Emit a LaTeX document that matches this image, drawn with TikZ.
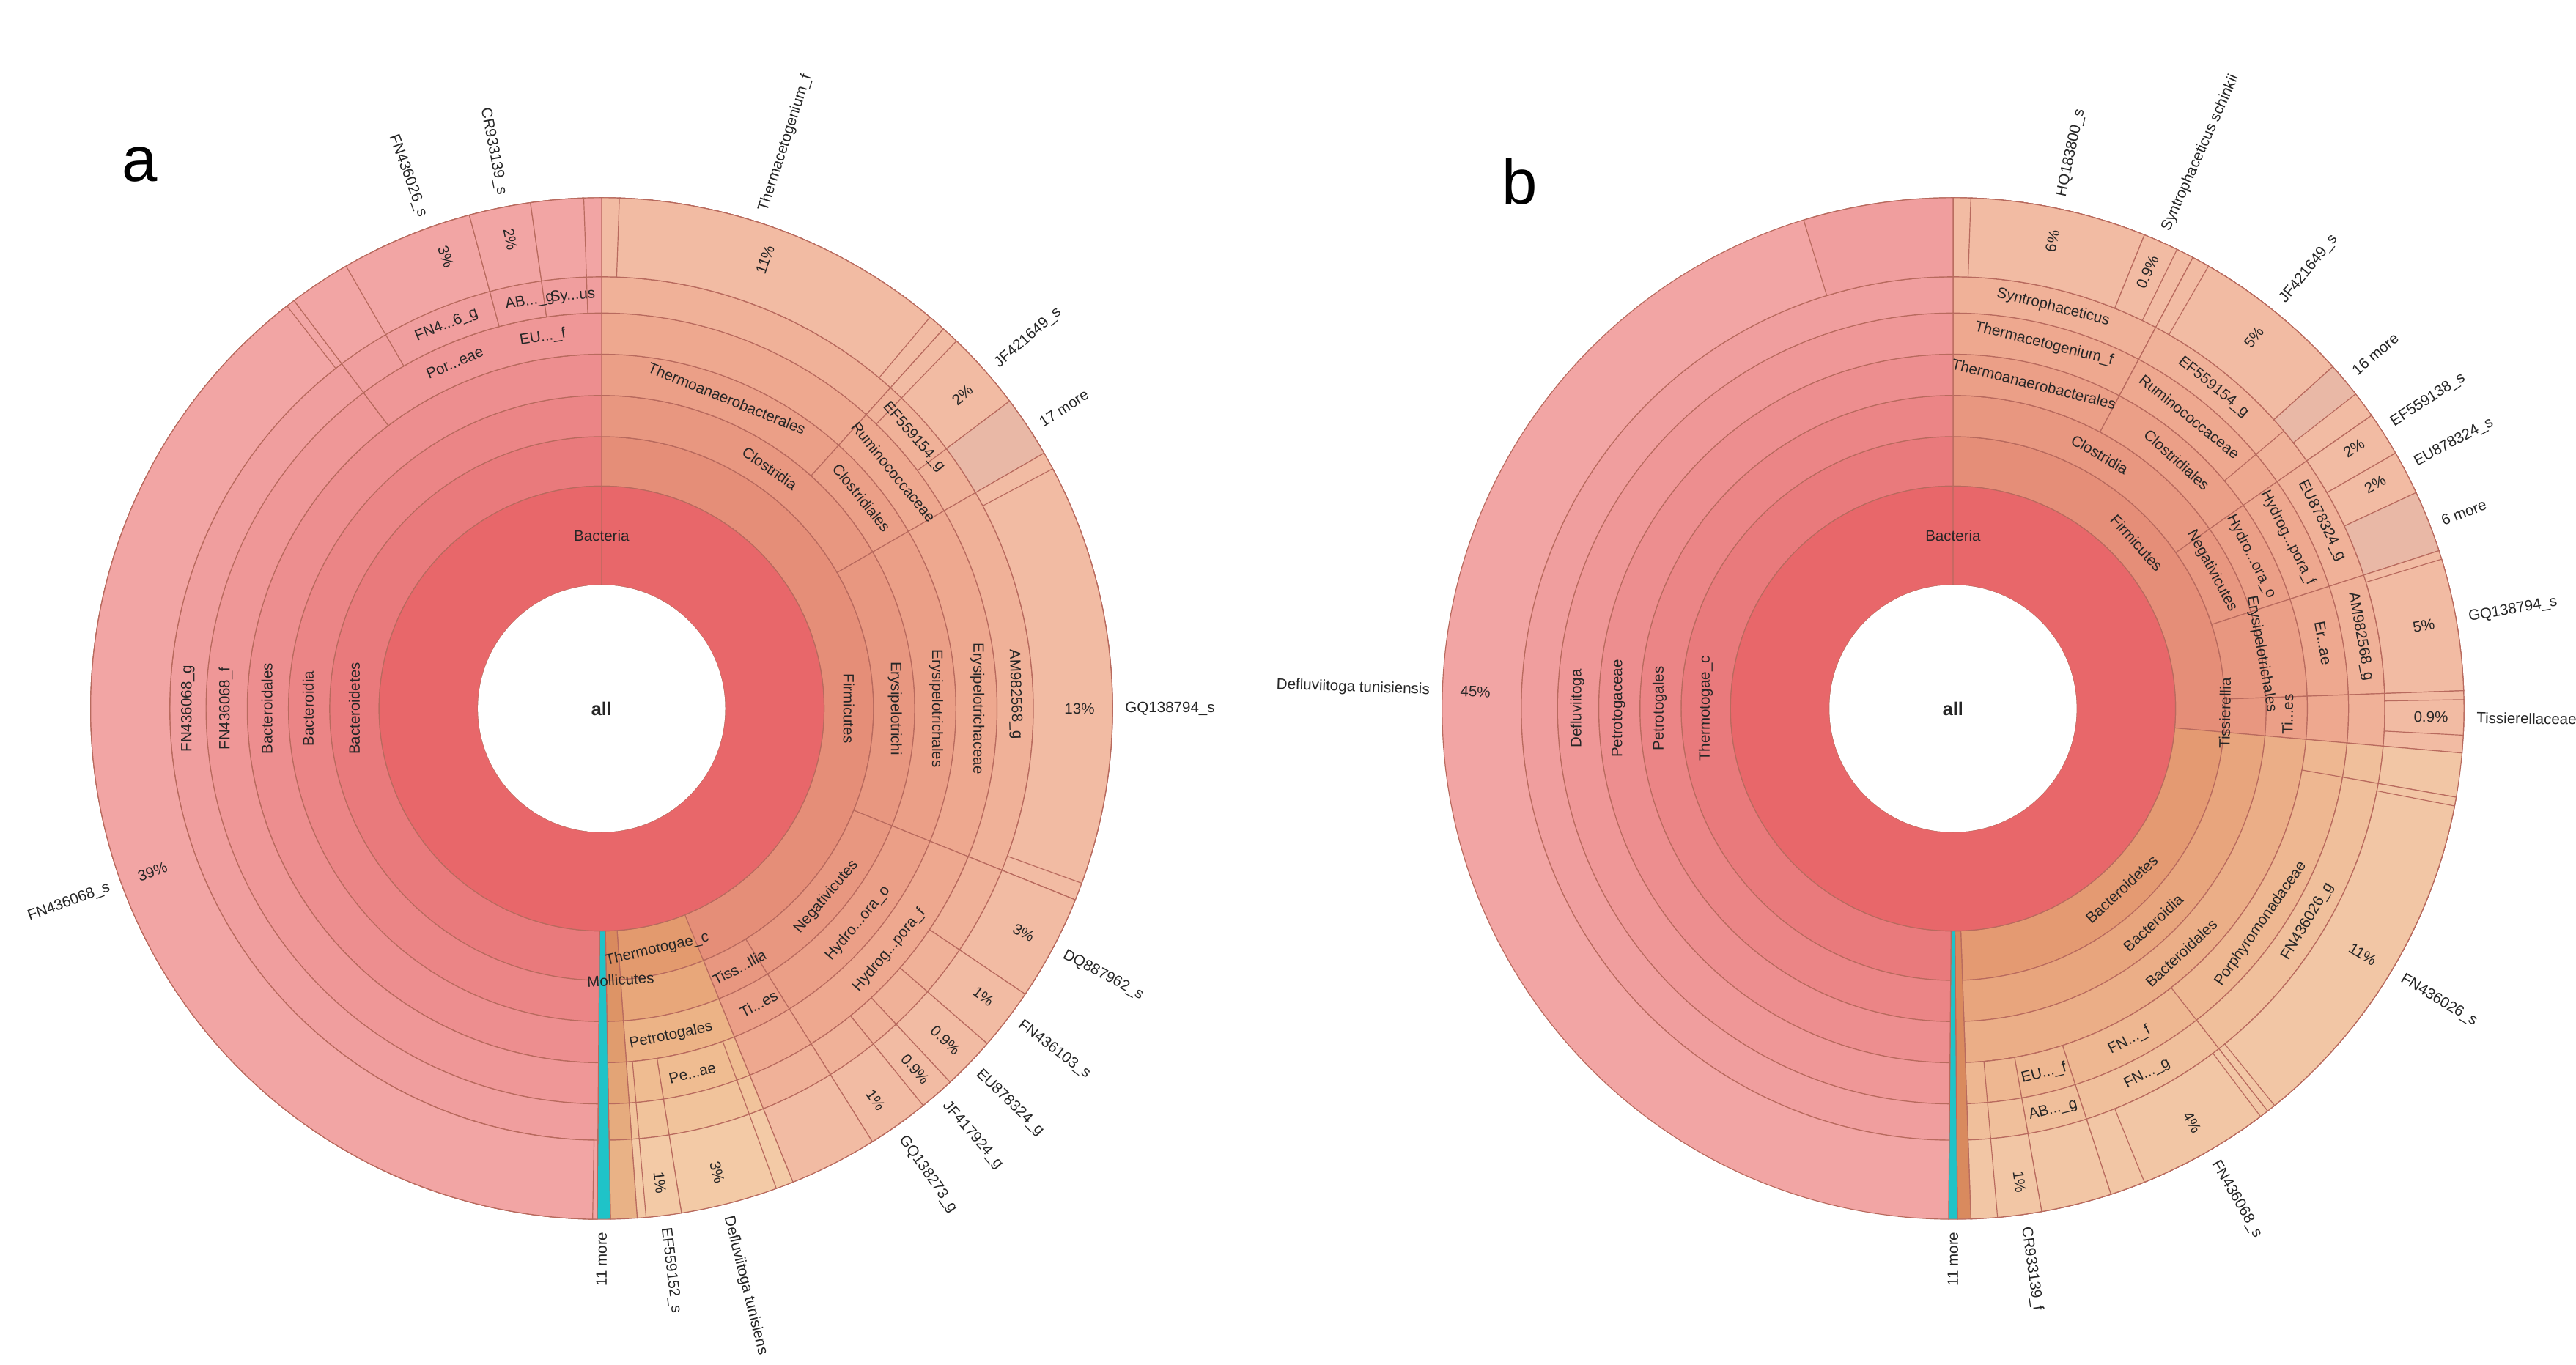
\documentclass[tikz,border=0pt]{standalone}
\usepackage{fontspec}
\setmainfont{Liberation Sans}
\definecolor{core}{HTML}{E8676A}
\definecolor{fm1}{HTML}{E58E78}\definecolor{fm2}{HTML}{E89780}\definecolor{fm3}{HTML}{EB9F87}
\definecolor{fm4}{HTML}{EEA88F}\definecolor{fm5}{HTML}{F0B198}\definecolor{fm6}{HTML}{F2BBA3}
\definecolor{bd1}{HTML}{E97A7C}\definecolor{bd2}{HTML}{EB8586}\definecolor{bd3}{HTML}{ED8E8F}
\definecolor{bd4}{HTML}{EF9797}\definecolor{bd5}{HTML}{F09E9E}\definecolor{bd6}{HTML}{F2A5A4}
\definecolor{tt1}{HTML}{E39A6E}\definecolor{tt2}{HTML}{E8A77A}\definecolor{tt3}{HTML}{ECB386}
\definecolor{tt4}{HTML}{EFBC91}\definecolor{tt5}{HTML}{F1C39B}\definecolor{tt6}{HTML}{F3CAA6}
\definecolor{tn1}{HTML}{D98A5E}\definecolor{tn2}{HTML}{DD9466}\definecolor{tn3}{HTML}{E09C6E}
\definecolor{tn4}{HTML}{E3A476}\definecolor{tn5}{HTML}{E6AB7E}\definecolor{tn6}{HTML}{E9B286}
\definecolor{bb1}{HTML}{E49A72}\definecolor{bb2}{HTML}{E8A57D}\definecolor{bb3}{HTML}{EBAE87}
\definecolor{bb4}{HTML}{EEB791}\definecolor{bb5}{HTML}{F0BF9B}\definecolor{bb6}{HTML}{F2C6A5}
\definecolor{more}{HTML}{E9B8A6}
\definecolor{tealc}{HTML}{1FC3C8}
\definecolor{edge}{HTML}{B86A5E}
\def\rads{{75,135,165,190,215,240,262,310}}
\newcommand\wdg[5]{\filldraw[fill=#5,draw=edge,line width=0.15pt]
 ({90-(#3)}:#1) arc[start angle={90-(#3)},end angle={90-(#4)},radius=#1]
 -- ({90-(#4)}:#2) arc[start angle={90-(#4)},end angle={90-(#3)},radius=#2] -- cycle;}
\newcommand\clade[4]{\foreach \l in {#3,...,6}{\pgfmathsetmacro\ra{\rads[\l]}\pgfmathsetmacro\rb{\rads[\l+1]}\wdg{\ra}{\rb}{#1}{#2}{#4\l}}}
\newcommand\tl[3]{\pgfmathsetmacro\rt{((#1>90)&&(#1<270))?180-(#1):-(#1)}\node[lbl,rotate=\rt] at ({90-(#1)}:#2) {#3};}
\newcommand\rl[3]{\pgfmathsetmacro\rt{(#1<180)?90-(#1):270-(#1)}\node[lbl,rotate=\rt] at ({90-(#1)}:#2) {#3};}
\newcommand\ol[2]{\pgfmathsetmacro\rt{(#1<180)?90-(#1):270-(#1)}\pgfmathsetmacro\an{(#1<180)?180:0}
 \node[lbl,rotate=\rt,anchor=\an] at ({90-(#1)}:316) {#2};}
\tikzset{lbl/.style={font=\fontsize{2.6}{3}\selectfont,inner sep=0.3pt,text=black!85}}
\begin{document}
\begin{tikzpicture}[x=0.1mm,y=0.1mm]
\useasboundingbox (0,0) rectangle (1563,828);
\fill[white] (0,0) rectangle (1563,828);
\node[font=\fontsize{11}{12}\selectfont] (la) at (85,728) {a};
\node[font=\fontsize{11}{12}\selectfont] (lb) at (922,718) {b};
% ---------- chart a ----------
\begin{scope}[shift={(365,398)}]
\clade{0}{160}{1}{fm}
\clade{0}{60}{2}{fm}\clade{0}{42}{3}{fm}\clade{2}{40}{6}{fm}\clade{42}{60}{3}{fm}\clade{44}{53}{5}{fm}
\wdg{262}{310}{53}{60}{more}
\clade{60}{112}{2}{fm}\clade{62}{110}{6}{fm}
\clade{112}{148}{2}{fm}\clade{112}{124}{5}{fm}\clade{124}{131}{5}{fm}\clade{131}{137}{5}{fm}\clade{137}{141}{5}{fm}\clade{141}{148}{5}{fm}
\clade{148}{158}{2}{fm}
\clade{158}{176}{1}{tt}\clade{160}{171}{4}{tt}\clade{171}{175}{4}{tt}
\clade{176}{179}{1}{tn}
\wdg{135}{310}{179}{180.5}{tealc}
\clade{180.5}{360}{1}{bd}\clade{180.5}{323}{4}{bd}\clade{181}{322}{6}{bd}
\clade{323}{360}{4}{bd}\clade{330}{345}{5}{bd}\clade{345}{352}{5}{bd}\clade{352}{358}{5}{bd}
\wdg{75}{135}{0}{360}{core}
\fill[white] (0,0) circle[radius=75];
\node[lbl,font=\fontsize{3.2}{4}\selectfont\bfseries] (alla) at (0,0) {all};
\tl{0}{105}{Bacteria}
\tl{90}{150}{Firmicutes}\tl{90}{178}{Erysipelotrichi}\tl{90}{203}{Erysipelotrichales}
\tl{90}{228}{Erysipelotrichaceae}\tl{88}{251}{AM982568\_g}
\tl{35}{178}{Clostridia}\tl{22}{203}{Thermoanaerobacterales}\tl{51}{203}{Clostridiales}
\tl{51}{228}{Ruminococcaceae}\tl{49}{251}{EF559154\_g}
\tl{130}{178}{Negativicutes}\tl{130}{203}{Hydro...ora\_o}\tl{130}{228}{Hydrog...pora\_f}
\tl{152}{178}{Tiss...llia}\tl{152}{203}{Ti...es}
\tl{167}{150}{Thermotogae\_c}\tl{168}{203}{Petrotogales}\tl{166}{228}{Pe...ae}
\tl{176}{165}{Mollicutes}
\tl{270}{150}{Bacteroidetes}\tl{270}{178}{Bacteroidia}\tl{270}{203}{Bacteroidales}
\tl{270}{228}{FN436068\_f}\tl{270}{251}{FN436068\_g}
\tl{337}{228}{Por...eae}\tl{338}{251}{FN4...6\_g}\tl{351}{228}{EU...\_f}\tl{350}{251}{AB...\_g}\tl{356}{251}{Sy...us}
\rl{90}{290}{13\%}\ol{90}{GQ138794\_s}
\rl{20}{290}{11\%}\ol{18}{Thermacetogenium\_f}
\rl{49}{290}{2\%}\ol{49}{JF421649\_s}\ol{57}{17 more}
\rl{118}{290}{3\%}\ol{118}{DQ887962\_s}
\rl{127}{290}{1\%}\ol{127}{FN436103\_s}
\rl{134}{290}{0.9\%}\ol{134}{EU878324\_g}
\rl{139}{290}{0.9\%}\ol{139}{JF417924\_g}
\rl{145}{290}{1\%}\ol{145}{GQ138273\_g}
\rl{166}{290}{3\%}\ol{166}{Defluviitoga tunisiens}
\rl{173}{290}{1\%}\ol{173}{EF559152\_s}
\ol{180}{11 more}
\rl{250}{290}{39\%}\ol{250}{FN436068\_s}
\rl{341}{290}{3\%}\ol{340}{FN436026\_s}
\rl{349}{290}{2\%}\ol{349}{CR933139\_s}
\end{scope}
% ---------- chart b ----------
\begin{scope}[shift={(1185,398)}]
\clade{0}{95}{1}{fm}
\clade{0}{55}{2}{fm}\clade{0}{28}{3}{fm}\clade{2}{22}{6}{fm}\clade{22}{26}{6}{fm}
\clade{28}{55}{3}{fm}\clade{28}{50}{4}{fm}\clade{30}{48}{6}{fm}\wdg{262}{310}{48}{52}{more}
\clade{55}{72}{2}{fm}\clade{55}{60}{6}{fm}\clade{60}{65}{6}{fm}\wdg{262}{310}{65}{72}{more}
\clade{72}{88}{2}{fm}\clade{73}{88}{6}{fm}
\clade{88}{95}{2}{fm}\clade{89}{93}{6}{fm}
\clade{95}{178}{1}{bb}\clade{100}{178}{4}{bb}\clade{100}{142}{5}{bb}\clade{101}{141}{6}{bb}
\clade{142}{162}{4}{bb}\clade{143}{158}{6}{bb}\clade{162}{170}{4}{bb}\clade{170}{175}{4}{bb}
\wdg{135}{310}{178}{179.5}{tn1}
\wdg{135}{310}{179.5}{180.5}{tealc}
\clade{180.5}{360}{1}{bd}\wdg{262}{310}{343}{360}{bd5}
\wdg{75}{135}{0}{360}{core}
\fill[white] (0,0) circle[radius=75];
\node[lbl,font=\fontsize{3.2}{4}\selectfont\bfseries] (allb) at (0,0) {all};
\tl{0}{105}{Bacteria}
\tl{270}{150}{Thermotogae\_c}\tl{270}{178}{Petrotogales}\tl{270}{203}{Petrotogaceae}\tl{270}{228}{Defluviitoga}
\tl{48}{150}{Firmicutes}\tl{30}{178}{Clostridia}\tl{14}{203}{Thermoanaerobacterales}
\tl{14}{228}{Thermacetogenium\_f}\tl{14}{251}{Syntrophaceticus}
\tl{42}{203}{Clostridiales}\tl{39}{228}{Ruminococcaceae}\tl{39}{251}{EF559154\_g}
\tl{62}{178}{Negativicutes}\tl{63}{203}{Hydro...ora\_o}\tl{63}{228}{Hydrog...pora\_f}\tl{63}{251}{EU878324\_g}
\tl{80}{190}{Erysipelotrichales}\tl{80}{228}{Er...ae}\tl{80}{251}{AM982568\_g}
\tl{91}{165}{Tissierellia}\tl{91}{203}{Ti...es}
\tl{137}{150}{Bacteroidetes}\tl{137}{178}{Bacteroidia}\tl{137}{203}{Bacteroidales}
\tl{125}{228}{Porphyromonadaceae}\tl{121}{251}{FN436026\_g}
\tl{152}{228}{FN...\_f}\tl{152}{251}{FN...\_g}\tl{166}{228}{EU...\_f}\tl{166}{251}{AB...\_g}
\rl{12}{290}{6\%}\ol{12}{HQ183800\_s}
\rl{24}{290}{0.9\%}\ol{24}{Syntrophaceticus schinkii}
\rl{39}{290}{5\%}\ol{39}{JF421649\_s}\ol{50}{16 more}
\rl{57}{290}{2\%}\ol{57}{EF559138\_s}
\rl{62}{290}{2\%}\ol{62}{EU878324\_s}\ol{69}{6 more}
\rl{80}{290}{5\%}\ol{80}{GQ138794\_s}
\rl{91}{290}{0.9\%}\ol{91}{Tissierellaceae}
\rl{121}{290}{11\%}\ol{121}{FN436026\_s}
\rl{150}{290}{4\%}\ol{150}{FN436068\_s}
\rl{172}{290}{1\%}\ol{172}{CR933139\_f}
\ol{180}{11 more}
\rl{272}{290}{45\%}\ol{272}{Defluviitoga tunisiensis}
\end{scope}
\end{tikzpicture}
\end{document}
